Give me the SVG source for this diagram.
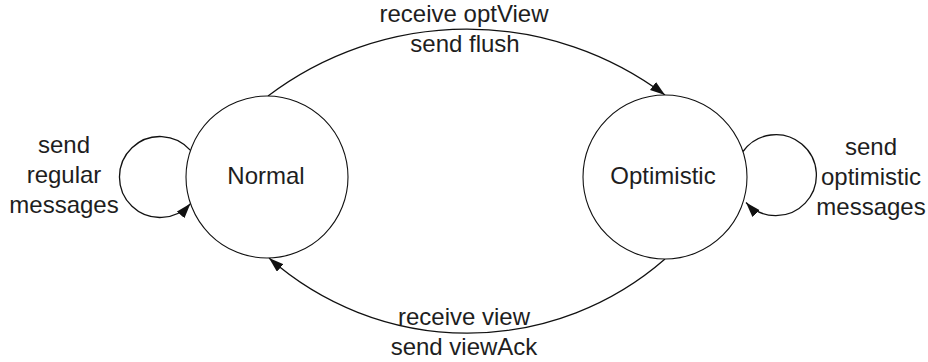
<svg xmlns="http://www.w3.org/2000/svg" width="928" height="362" viewBox="0 0 928 362">
  <style>
    .state { fill: #ffffff; stroke: #111111; stroke-width: 1.1; }
    .edge { fill: none; stroke: #111111; stroke-width: 1.3; marker-end: url(#arrow); }
    text { font-family: "Liberation Sans", Arial, sans-serif; font-size: 24px; fill: #1e1e1e; text-anchor: middle; }
  </style>
  <defs>
    <marker id="arrow" markerUnits="userSpaceOnUse" markerWidth="16" markerHeight="11" refX="15" refY="5" orient="auto">
      <path d="M0,0 L15,5 L0,10 Z" fill="#111111"/>
    </marker>
  </defs>

  <rect width="928" height="362" fill="#ffffff"/>

  <!-- transitions -->
  <g id="connectors">
    <path class="edge" d="M268,96 A330,330 0 0 1 665,95"/>
    <path class="edge" d="M665,259 A300,300 0 0 1 269,258"/>
    <path class="edge" d="M190.5,150.4 A40.5,40.5 0 1 0 190.5,203.6"/>
    <path class="edge" d="M743,151.5 A40.5,40.5 0 1 1 746,202.5"/>
  </g>

  <g id="normal">
    <circle class="state" cx="267" cy="177" r="81"/>
    <text x="266" y="184">Normal</text>
  </g>

  <g id="optimistic">
    <circle class="state" cx="665" cy="177" r="82"/>
    <text x="663" y="184">Optimistic</text>
  </g>

  <!-- transition labels -->
  <g id="labels">
    <text x="464" y="22">receive optView</text>
    <text x="465" y="52">send flush</text>
    <text x="464" y="325">receive view</text>
    <text x="464" y="355">send viewAck</text>
    <text x="64" y="153">send</text>
    <text x="64" y="183">regular</text>
    <text x="64" y="213">messages</text>
    <text x="871" y="155">send</text>
    <text x="871" y="185">optimistic</text>
    <text x="871" y="215">messages</text>
  </g>
</svg>
